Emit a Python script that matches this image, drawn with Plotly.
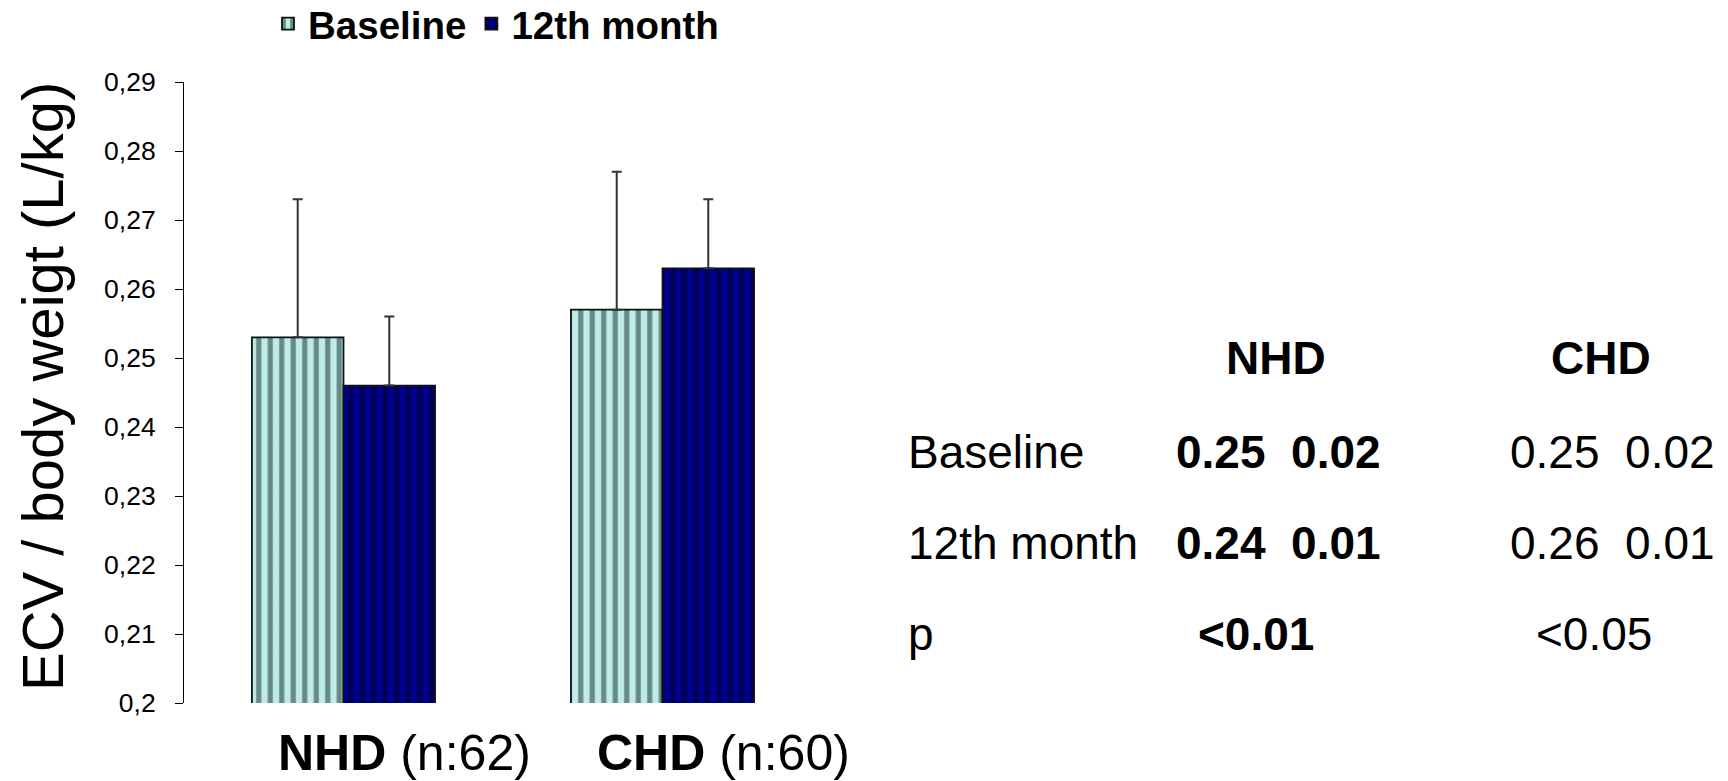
import plotly.graph_objects as go

# Group categories and sample sizes
categories = ["NHD", "CHD"]
group_sizes = ["(n:62)", "(n:60)"]

# ECV / body weight (L/kg), mean and SD
baseline_mean = [0.253, 0.257]
baseline_sd = [0.020, 0.020]
month12_mean = [0.246, 0.263]
month12_sd = [0.010, 0.010]

# Y axis ticks
y_tickvals = [0.20, 0.21, 0.22, 0.23, 0.24, 0.25, 0.26, 0.27, 0.28, 0.29]
y_ticktext = ["0,2", "0,21", "0,22", "0,23", "0,24", "0,25", "0,26", "0,27", "0,28", "0,29"]

# Summary table
table_cols = ["NHD", "CHD"]
table_rows = ["Baseline", "12th month", "p"]
nhd_means = ["0.25", "0.24"]
nhd_sds = ["0.02", "0.01"]
nhd_p = "&lt;0.01"
chd_means = ["0.25", "0.26"]
chd_sds = ["0.02", "0.01"]
chd_p = "&lt;0.05"

FONT = "Liberation Sans, Arial, sans-serif"

# Plot area in pixels (figure is 1728 x 781)
L, R, T, B = 184, 822, 82, 703
W = 1728
H = 781


def px(xp):
    return (xp - L) / (R - L)


def py(yp):
    return (B - yp) / (B - T)


fig = go.Figure()

fig.add_trace(go.Bar(
    name="Baseline",
    x=categories,
    y=baseline_mean,
    marker=dict(
        color="#a9d8d4",
        line=dict(color="#111111", width=1.8),
        pattern=dict(shape="|", fgcolor="#678985", bgcolor="#bfece8",
                     size=11.5, solidity=0.45, fillmode="replace"),
    ),
    error_y=dict(type="data", array=baseline_sd, arrayminus=[0, 0],
                 symmetric=False, color="#333333", thickness=2, width=5),
))

fig.add_trace(go.Bar(
    name="12th month",
    x=categories,
    y=month12_mean,
    marker=dict(
        color="#000080",
        line=dict(color="#111111", width=1.8),
        pattern=dict(shape="|", fgcolor="#000058", bgcolor="#000090",
                     size=11.5, solidity=0.5, fillmode="replace"),
    ),
    error_y=dict(type="data", array=month12_sd, arrayminus=[0, 0],
                 symmetric=False, color="#333333", thickness=2, width=5),
))

annotations = []

# Y axis title
annotations.append(dict(
    text="ECV / body weigt (L/kg)", textangle=-90,
    xref="paper", yref="paper", x=px(42), y=py(387),
    xanchor="center", yanchor="middle", showarrow=False,
    font=dict(family=FONT, size=58, color="black"),
))

# Group labels under the bars
for i, (cat, n) in enumerate(zip(categories, group_sizes)):
    annotations.append(dict(
        text=f"<b>{cat}</b> {n}",
        xref="x", yref="paper", x=i, y=py(753), xshift=61,
        xanchor="center", yanchor="middle", showarrow=False,
        font=dict(family=FONT, size=50, color="black"),
    ))

# Summary table on the right
row_y = [py(452), py(543), py(634)]
table_font = dict(family=FONT, size=46, color="black")

for col, xc in zip(table_cols, [1276, 1601]):
    annotations.append(dict(
        text=f"<b>{col}</b>", xref="paper", yref="paper", x=px(xc), y=py(358),
        xanchor="center", yanchor="middle", showarrow=False, font=table_font,
    ))

for label, yv in zip(table_rows, row_y):
    annotations.append(dict(
        text=label, xref="paper", yref="paper", x=px(906), y=yv,
        xanchor="left", yanchor="middle", showarrow=False, font=table_font,
    ))

gap = "\u00a0\u00a0"
for k in range(2):
    annotations.append(dict(
        text=f"<b>{nhd_means[k]}{gap}{nhd_sds[k]}</b>", xref="paper", yref="paper",
        x=px(1278), y=row_y[k], xanchor="center", yanchor="middle",
        showarrow=False, font=table_font,
    ))
    annotations.append(dict(
        text=f"{chd_means[k]}{gap}{chd_sds[k]}", xref="paper", yref="paper",
        x=px(1612), y=row_y[k], xanchor="center", yanchor="middle",
        showarrow=False, font=table_font,
    ))

annotations.append(dict(
    text=f"<b>{nhd_p}</b>", xref="paper", yref="paper", x=px(1256), y=row_y[2],
    xanchor="center", yanchor="middle", showarrow=False, font=table_font,
))
annotations.append(dict(
    text=chd_p, xref="paper", yref="paper", x=px(1594), y=row_y[2],
    xanchor="center", yanchor="middle", showarrow=False, font=table_font,
))

fig.update_layout(
    width=W, height=H,
    margin=dict(l=L, r=W - R, t=T, b=H - B, autoexpand=False),
    paper_bgcolor="white", plot_bgcolor="white",
    barmode="group", bargap=0.426, bargroupgap=0,
    font=dict(family=FONT, color="black"),
    showlegend=True,
    legend=dict(
        orientation="h", x=px(268), y=py(24), xanchor="left", yanchor="middle",
        font=dict(family=FONT, size=38.5, color="black", weight="bold"),
        bgcolor="rgba(0,0,0,0)", itemwidth=30,
    ),
    xaxis=dict(
        type="category", range=[-0.5, 1.5], showticklabels=False,
        ticks="", showline=False, showgrid=False, zeroline=False,
    ),
    yaxis=dict(
        range=[0.2, 0.29], tickmode="array", tickvals=y_tickvals, ticktext=y_ticktext,
        ticks="outside", ticklen=8, tickcolor="black", tickwidth=1,
        showline=True, linecolor="black", linewidth=1,
        showgrid=False, zeroline=False, ticklabelstandoff=14,
        tickfont=dict(family=FONT, size=26.5, color="black"),
    ),
    annotations=annotations,
)

fig.write_html("out.html")
